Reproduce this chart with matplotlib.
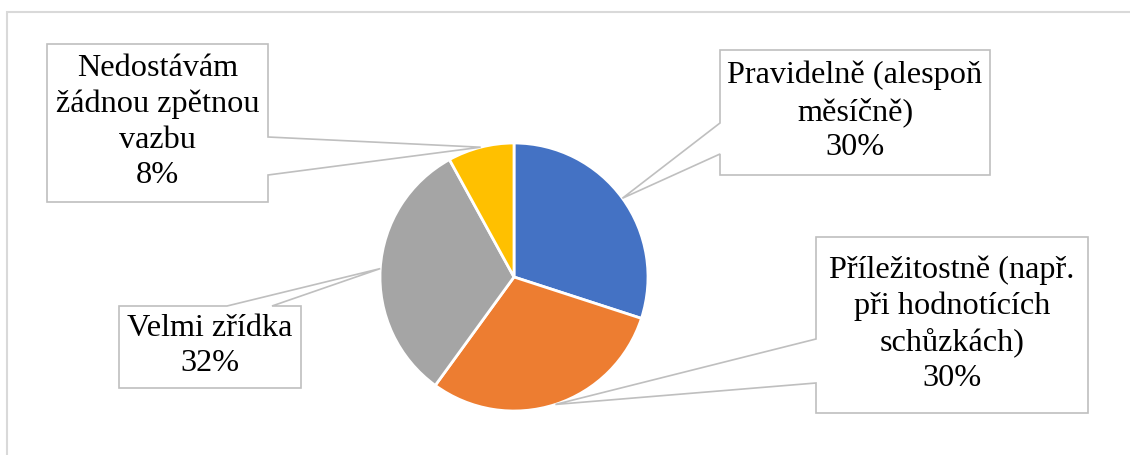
import numpy as np
import matplotlib
matplotlib.use('Agg')
import matplotlib.pyplot as plt
from matplotlib.patches import Polygon, Rectangle

# Data
categories = ['Pravidelně (alespoň\nměsíčně)',
              'Příležitostně (např.\npři hodnotících\nschůzkách)',
              'Velmi zřídka',
              'Nedostávám\nžádnou zpětnou\nvazbu']
shares = [30, 30, 32, 8]
colors = ['#4472C4', '#ED7D31', '#A5A5A5', '#FFC000']

plt.rcParams['font.family'] = ['Liberation Serif', 'DejaVu Serif']

W, H = 1130, 455
fig = plt.figure(figsize=(W / 100, H / 100), dpi=100)
ax = fig.add_axes([0, 0, 1, 1])

# pie in pixel-like coordinates (y measured from bottom)
cx, cy, R = 514, H - 277, 134
wedges, _ = ax.pie(shares, colors=colors, startangle=90, counterclock=False,
                   center=(cx, cy), radius=R,
                   wedgeprops=dict(edgecolor='white', linewidth=2))
ax.set_xlim(0, W)
ax.set_ylim(0, H)
ax.set_aspect('equal')
ax.axis('off')

# chart area border
ax.add_patch(Rectangle((7, -10), W + 20, H - 12 + 10, fill=False,
                       edgecolor='#D9D9D9', linewidth=1.5, zorder=1))

# label boxes: x0, y0, x1, y1 (from top-left), side of pointer, pointer base
boxes = [
    (720, 50, 990, 175, 'left', (123, 154)),
    (816, 237, 1088, 413, 'left', (339, 383)),
    (119, 306, 301, 388, 'top', (227, 272)),
    (47, 44, 268, 202, 'right', (137, 175)),
]

for w, cat, v, (x0, y0, x1, y1, side, (a, b)) in zip(wedges, categories, shares, boxes):
    ang = np.deg2rad((w.theta1 + w.theta2) / 2)
    tx, ty = cx + R * np.cos(ang), cy + R * np.sin(ang)
    ty = H - ty  # back to top-left origin
    if side == 'left':
        pts = [(x0, y0), (x1, y0), (x1, y1), (x0, y1), (x0, b), (tx, ty), (x0, a)]
    elif side == 'right':
        pts = [(x0, y0), (x1, y0), (x1, a), (tx, ty), (x1, b), (x1, y1), (x0, y1)]
    else:
        pts = [(x0, y0), (a, y0), (tx, ty), (b, y0), (x1, y0), (x1, y1), (x0, y1)]
    pts = [(px, H - py) for px, py in pts]
    ax.add_patch(Polygon(pts, closed=True, facecolor='white', edgecolor='#BFBFBF',
                         linewidth=1.2, zorder=3))
    ax.text((x0 + x1) / 2, H - (y0 + y1) / 2 + 1, f'{cat}\n{v}%', ha='center', va='center',
            fontsize=23.2, color='black', linespacing=1.3, zorder=4)

fig.savefig('out.png', dpi=100)
